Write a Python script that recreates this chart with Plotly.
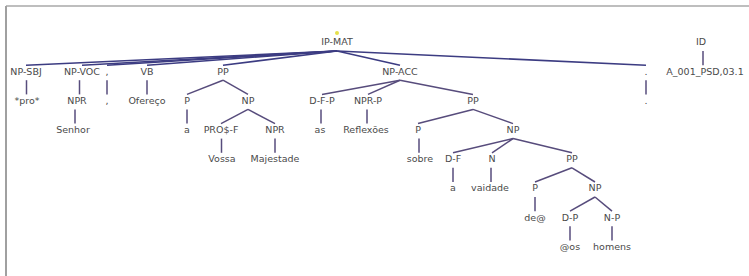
import plotly.graph_objects as go

# Tree data: node labels and parent index (-1 = root)
labels = ["IP-MAT", "NP-SBJ", "*pro*", "NP-VOC", "NPR", "Senhor", ",", ",",
          "VB", "Ofereço", "PP", "P", "a", "NP", "PRO$-F", "Vossa", "NPR", "Majestade",
          "NP-ACC", "D-F-P", "as", "NPR-P", "Reflexões", "PP", "P", "sobre", "NP",
          "D-F", "a", "N", "vaidade", "PP", "P", "de@", "NP", "D-P", "@os", "N-P", "homens",
          ".", ".", "ID", "A_001_PSD,03.1"]
parents = [-1, 0, 1, 0, 3, 4, 0, 6,
           0, 8, 0, 10, 11, 10, 13, 14, 13, 16,
           0, 18, 19, 18, 21, 18, 23, 24, 23,
           26, 27, 26, 29, 26, 31, 32, 31, 34, 35, 34, 37,
           0, 39, -1, 41]

# Layout (horizontal placement of each node, in pixels)
x_pos = [337, 26, 27, 82, 77, 73, 107, 107,
         147, 147, 223, 187, 187, 248, 221, 222, 275, 275,
         400, 322, 320, 368, 366, 473, 418, 420, 513,
         453, 453, 492, 490, 572, 535, 535, 595, 570, 570, 612, 612,
         646, 646, 701, 705]

TOP = 43
STEP = 29.2

def depth(i):
    d = 0
    while parents[i] != -1:
        i = parents[i]
        d += 1
    return d

y_pos = [TOP + STEP * depth(i) for i in range(len(labels))]
n_children = [parents.count(i) for i in range(len(labels))]

fig = go.Figure()

ex_root, ey_root, ex, ey = [], [], [], []
for i, p in enumerate(parents):
    if p == -1:
        continue
    x0, y0 = x_pos[p], y_pos[p] + 8
    x1, y1 = x_pos[i], y_pos[i] - 7
    if n_children[p] == 1:
        xm = (x0 + x1) / 2
        x0 = x1 = xm
    if p == 0:
        ex_root += [x0, x1, None]
        ey_root += [y0, y1, None]
    else:
        ex += [x0, x1, None]
        ey += [y0, y1, None]

fig.add_trace(go.Scatter(x=ex_root, y=ey_root, mode="lines",
                         line=dict(color="#3c3c82", width=1.6), hoverinfo="skip"))
fig.add_trace(go.Scatter(x=ex, y=ey, mode="lines",
                         line=dict(color="#574c7c", width=1.5), hoverinfo="skip"))

fig.add_trace(go.Scatter(x=x_pos, y=y_pos, mode="text", text=labels,
                         textposition="middle center",
                         textfont=dict(family="DejaVu Sans", size=9.5, color="#4a4a4a"),
                         hoverinfo="skip"))

fig.add_trace(go.Scatter(x=[x_pos[0]], y=[y_pos[0] - 10], mode="markers",
                         marker=dict(color="#e6e04a", size=4), hoverinfo="skip"))

fig.update_layout(
    width=749, height=276,
    margin=dict(l=0, r=0, t=0, b=0),
    paper_bgcolor="white", plot_bgcolor="white",
    showlegend=False,
    xaxis=dict(range=[0, 749], visible=False, fixedrange=True),
    yaxis=dict(range=[276, 0], visible=False, fixedrange=True),
    shapes=[
        dict(type="line", xref="x", yref="y", x0=6, x1=749, y0=6, y1=6,
             line=dict(color="#a8a8a8", width=1.5)),
        dict(type="line", xref="x", yref="y", x0=6, x1=6, y0=6, y1=276,
             line=dict(color="#a0a0a0", width=2)),
    ],
)

fig.write_html("out.html", config={"displayModeBar": False},
               post_script="document.body.style.margin='0';document.body.style.overflow='hidden';")
